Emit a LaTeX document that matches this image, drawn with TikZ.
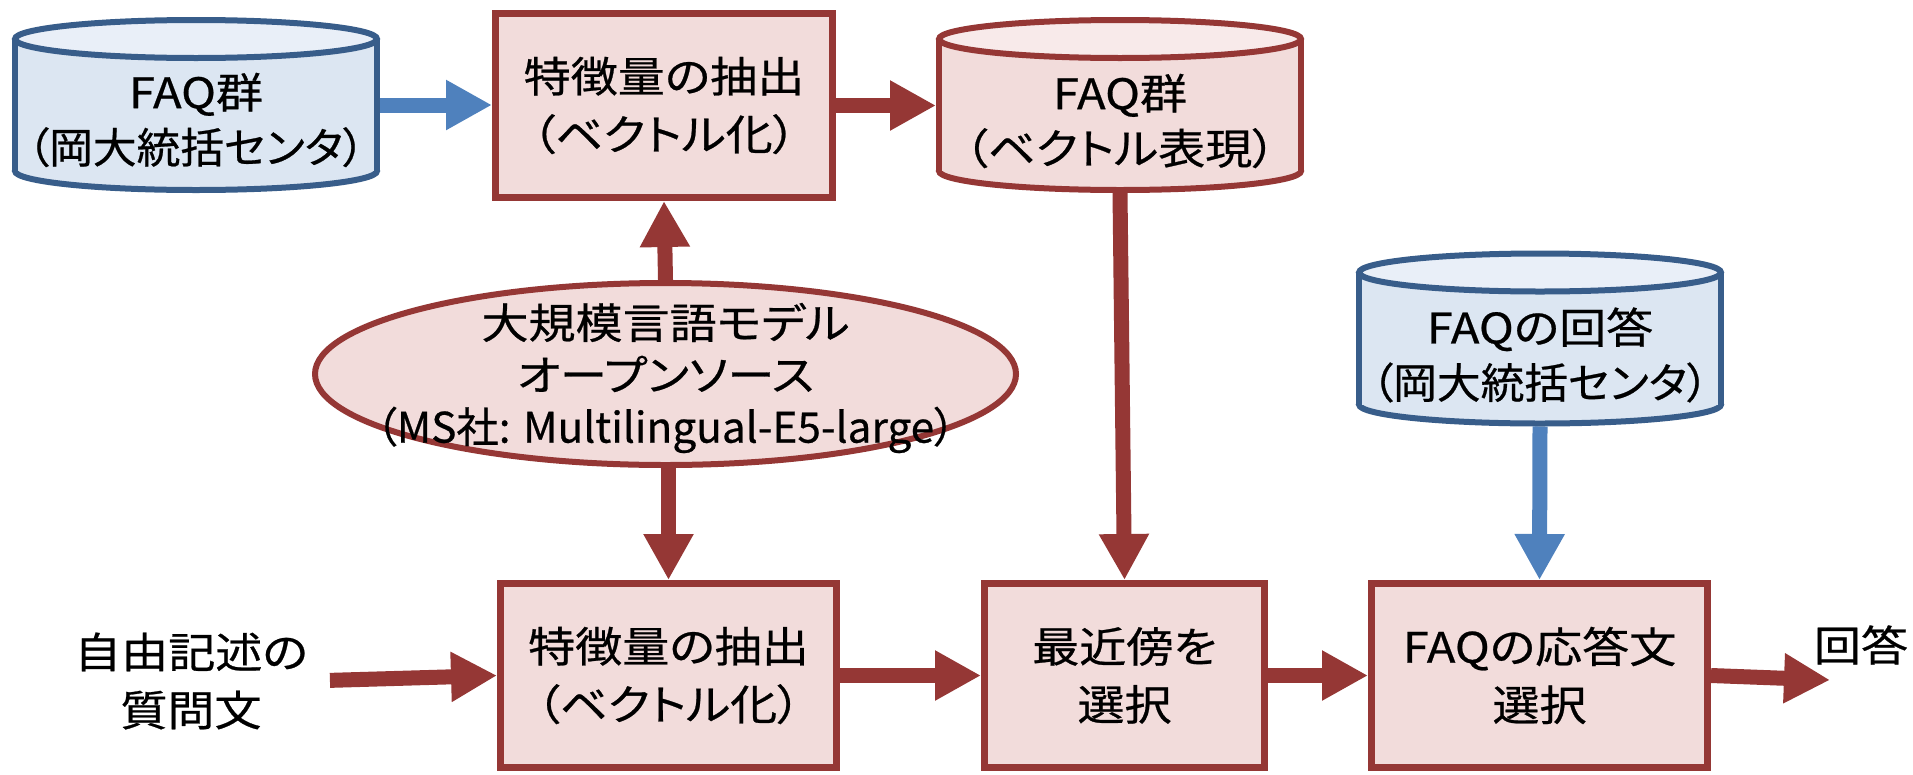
\documentclass[tikz,border=0pt]{standalone}
\usepackage{fontspec}
\usepackage{graphicx}
\setmainfont[FakeStretch=1.12,FakeBold=0.6,RawFeature=+palt]{Noto Sans CJK JP}
\usetikzlibrary{arrows.meta,shapes.geometric,calc}
\pgfdeclarelayer{bg}
\pgfsetlayers{bg,main}
\definecolor{rb}{HTML}{953735}
\definecolor{rf}{HTML}{F2DCDB}
\definecolor{rtop}{HTML}{F8EAEA}
\definecolor{bb}{HTML}{385D8A}
\definecolor{bf}{HTML}{DCE6F2}
\definecolor{btop}{HTML}{E9EFF8}
\definecolor{ba}{HTML}{4F81BD}
\tikzset{
  rarr/.style={draw=rb, line width=15pt, -{Triangle[width=47pt,length=46pt]}},
  barr/.style={draw=ba, line width=15pt, -{Triangle[width=47pt,length=46pt]}},
  procbox/.style={draw=rb, fill=rf, line width=7pt, minimum height=184pt, inner sep=0pt, align=center, font=\fontsize{42}{58}\selectfont},
  cylnode/.style={rectangle, minimum width=368pt, minimum height=176pt, inner sep=0pt, outer sep=0pt},
  cyltext/.style={align=center, inner sep=0pt, font=\fontsize{42}{55}\selectfont},
  plain/.style={align=center, inner sep=0pt, font=\fontsize{42}{58}\selectfont},
}
\newcommand\cylbg[4]{%
  \begin{pgfonlayer}{bg}
    \path[fill=#2,draw=#4,line width=6pt] ($(#1.south)+(0,-22)$) ellipse[x radius=181pt,y radius=19pt];
    \fill[#2] ($(#1.north west)+(3,22)$) rectangle ($(#1.south east)+(-3,-22)$);
    \draw[#4,line width=6pt] ($(#1.north west)+(3,22)$) -- ($(#1.south west)+(3,-22)$)
                             ($(#1.north east)+(-3,22)$) -- ($(#1.south east)+(-3,-22)$);
    \path[fill=#3,draw=#4,line width=6pt] ($(#1.north)+(0,22)$) ellipse[x radius=181pt,y radius=19pt];
  \end{pgfonlayer}}
\begin{document}
\begin{tikzpicture}[x=1pt,y=-1pt]
\useasboundingbox (0,0) rectangle (1913,774);
% cylinders
\node[cylnode] (c1) at (196,105) {};
\cylbg{c1}{bf}{btop}{bb}
\node[cyltext] (c1t) at (196,120) {FAQ群\\\scalebox{0.93}[1]{（岡大統括センタ）}};
\node[cylnode] (c2) at (1120,105) {};
\cylbg{c2}{rf}{rtop}{rb}
\node[cyltext] (c2t) at (1120,121) {FAQ群\\（ベクトル表現）};
\node[cylnode] (c3) at (1540,338.5) {};
\cylbg{c3}{bf}{btop}{bb}
\node[cyltext] (c3t) at (1540,355) {FAQの回答\\\scalebox{0.93}[1]{（岡大統括センタ）}};
% boxes
\node[procbox, minimum width=337pt] (b1) at (664,105.5) {特徴量の抽出\\（ベクトル化）};
\node[procbox, minimum width=336pt] (b2) at (668.5,675.5) {特徴量の抽出\\（ベクトル化）};
\node[procbox, minimum width=280pt] (b3) at (1124.5,675.5) {最近傍を\\選択};
\node[procbox, minimum width=336pt] (b4) at (1539.5,675.5) {FAQの応答文\\選択};
% ellipse
\node[ellipse, draw=rb, fill=rf, line width=6pt, minimum width=701pt, minimum height=182pt, inner sep=0pt] (llm) at (665.5,374) {};
\node[align=center, inner sep=0pt, font=\fontsize{42}{52}\selectfont] (llmt) at (665.5,378)
  {大規模言語モデル\\オープンソース\\\scalebox{0.9}[1]{（MS社: Multilingual-E5-large）}};
% texts
\node[plain] (q) at (191,681) {自由記述の\\質問文};
\node[plain] (ans) at (1861,645) {回答};
\coordinate (ansend) at (1830,680);
% arrows
\draw[barr] (c1.east) -- (b1.west |- c1.east);
\draw[rarr] (b1.east) -- (c2.west |- b1.east);
\draw[rarr] (llm.north) -- (b1.south);
\draw[rarr] (b2.north |- llm.south) -- (b2.north);
\draw[rarr] (c2.south) -- (b3.north);
\draw[barr] (c3.south) -- (b4.north);
\draw[rarr, shorten <=22pt] (q.east) -- (b2.west);
\draw[rarr] (b2.east) -- (b3.west);
\draw[rarr] (b3.east) -- (b4.west);
\draw[rarr] (b4.east) -- (ansend);
\end{tikzpicture}
\end{document}
